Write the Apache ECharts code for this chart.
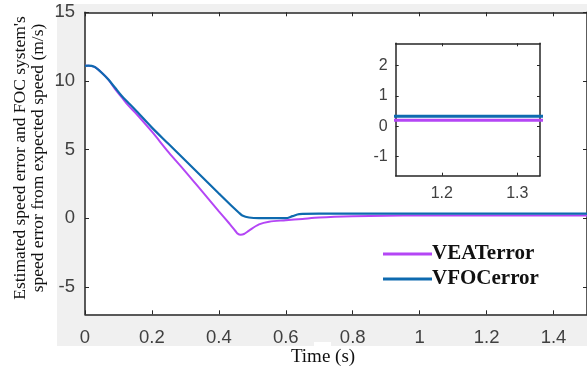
<!DOCTYPE html>
<html><head><meta charset="utf-8">
<script src="https://cdn.jsdelivr.net/npm/echarts@6/dist/echarts.min.js"></script>
<style>html,body{margin:0;padding:0;background:#fff}#c{width:587px;height:375px}</style>
</head><body><div id="c"></div>
<script>
const timeVEAT = [0,0.01,0.02,0.03,0.05,0.07,0.09,0.11,0.13,0.15,0.2,0.25,0.3,0.35,0.4,0.43,0.44,0.45,0.455,0.465,0.475,0.49,0.52,0.55,0.6,0.65,0.7,0.8,0.9,1.0,1.5];
const valVEAT  = [11.1,11.1,11.08,11.0,10.6,10.1,9.4,8.8,8.2,7.7,6.3,4.8,3.4,1.95,0.5,-0.35,-0.65,-0.95,-1.1,-1.2,-1.15,-0.9,-0.45,-0.25,-0.15,-0.05,0.05,0.14,0.18,0.2,0.2];
const timeVFOC = [0,0.01,0.02,0.03,0.05,0.07,0.09,0.11,0.13,0.15,0.2,0.25,0.3,0.35,0.4,0.44,0.46,0.47,0.49,0.52,0.6,0.62,0.64,0.7,1.0,1.5];
const valVFOC  = [11.1,11.12,11.1,11.0,10.6,10.1,9.5,8.9,8.4,7.9,6.6,5.4,4.2,3.0,1.8,0.85,0.4,0.2,0.05,0.0,0.0,0.15,0.3,0.33,0.33,0.33];
const seriesNames = ['VEATerror','VFOCerror'];
const mainYTicks = [-5,0,5,10,15];
const insetXTicks = [1.2,1.3];
const insetYTicks = [-1,0,1,2];

const colVEAT = '#b446f5', colVFOC = '#0e6aaf';
const axisCol = '#262626', labCol = '#404040';
const pairs = (t,v)=>t.map((x,i)=>[x,v[i]]);
const dVEAT = pairs(timeVEAT,valVEAT), dVFOC = pairs(timeVFOC,valVFOC);

const chart = echarts.init(document.getElementById('c'), null, {renderer:'canvas'});
const tickIn = {show:true, inside:true, length:4, lineStyle:{color:axisCol,width:1}};
const lineAx = {show:true, onZero:false, lineStyle:{color:axisCol,width:1.5}};
const lab = {color:labCol, fontFamily:'Liberation Sans, Arial, sans-serif', fontSize:18.5};
const labIn = {color:labCol, fontFamily:'Liberation Sans, Arial, sans-serif', fontSize:16};
const serif = 'Liberation Serif, Times New Roman, serif';
chart.setOption({
  animation:false,
  backgroundColor:'#fff',
  graphic:[
    {type:'rect', z:-10, silent:true, shape:{x:57,y:4,width:540,height:342}, style:{fill:'#f0f0f0'}},
    {type:'rect', z:-9, silent:true, shape:{x:85,y:12.3,width:503,height:302}, style:{fill:'#fff'}},
    {type:'rect', z:-9, silent:true, shape:{x:314,y:342,width:17,height:6}, style:{fill:'#fff'}},
    {type:'text', silent:true, x:20, y:158, rotation:Math.PI/2, style:{text:"Estimated speed error and FOC system's", fontFamily:serif, fontSize:17.5, fill:'#111', textAlign:'center', textVerticalAlign:'middle'}},
    {type:'text', silent:true, x:38, y:158, rotation:Math.PI/2, style:{text:'speed error from expected speed (m/s)', fontFamily:serif, fontSize:17.5, fill:'#111', textAlign:'center', textVerticalAlign:'middle'}},
    {type:'text', silent:true, x:323, y:357, style:{text:'Time (s)', fontFamily:serif, fontSize:19, fill:'#111', textAlign:'center', textVerticalAlign:'middle'}}
  ],
  legend:{
    data:seriesNames, orient:'vertical', left:383, top:243, itemGap:3, padding:0,
    icon:'rect', itemWidth:49, itemHeight:3,
    textStyle:{fontFamily:serif, fontWeight:'bold', fontSize:21, color:'#111', padding:[0,0,0,-5], lineHeight:22},
    selectedMode:false
  },
  grid:[
    {left:85, top:12.3, width:503, height:302, containLabel:false},
    {left:395.7, top:43.3, width:144.3, height:132.4, containLabel:false, show:true, backgroundColor:'#fff', borderWidth:0, z:5}
  ],
  xAxis:[
    {type:'value', gridIndex:0, min:0, max:1.5, interval:0.2, position:'bottom',
     axisLine:lineAx, axisTick:tickIn, splitLine:{show:false},
     axisLabel:Object.assign({margin:14, showMaxLabel:false}, lab)},
    {type:'value', gridIndex:0, min:0, max:1.5, interval:0.2, position:'top',
     axisLine:lineAx, axisTick:tickIn, splitLine:{show:false}, axisLabel:{show:false}},
    {type:'value', gridIndex:1, min:1.139, max:1.33, position:'bottom',
     axisLine:lineAx, axisTick:Object.assign({customValues:insetXTicks}, tickIn, {length:3}), splitLine:{show:false},
     axisLabel:Object.assign({customValues:insetXTicks, margin:10}, labIn), z:6},
    {type:'value', gridIndex:1, min:1.139, max:1.33, position:'top',
     axisLine:lineAx, axisTick:Object.assign({customValues:insetXTicks}, tickIn, {length:3}), splitLine:{show:false}, axisLabel:{show:false}, z:6}
  ],
  yAxis:[
    {type:'value', gridIndex:0, min:-7, max:15, position:'left',
     axisLine:lineAx, axisTick:Object.assign({customValues:mainYTicks}, tickIn), splitLine:{show:false},
     axisLabel:Object.assign({customValues:mainYTicks, margin:10}, lab)},
    {type:'value', gridIndex:0, min:-7, max:15, position:'right',
     axisLine:lineAx, axisTick:Object.assign({customValues:mainYTicks}, tickIn), splitLine:{show:false}, axisLabel:{show:false}},
    {type:'value', gridIndex:1, min:-1.63, max:2.74, position:'left',
     axisLine:lineAx, axisTick:Object.assign({customValues:insetYTicks}, tickIn, {length:3}), splitLine:{show:false},
     axisLabel:Object.assign({customValues:insetYTicks, margin:8}, labIn), z:6},
    {type:'value', gridIndex:1, min:-1.63, max:2.74, position:'right',
     axisLine:lineAx, axisTick:Object.assign({customValues:insetYTicks}, tickIn, {length:3}), splitLine:{show:false}, axisLabel:{show:false}, z:6}
  ],
  series:[
    {name:seriesNames[0], type:'line', xAxisIndex:0, yAxisIndex:0, data:dVEAT, showSymbol:false, smooth:0.3, lineStyle:{color:colVEAT,width:2}, itemStyle:{color:colVEAT}, z:2},
    {name:seriesNames[1], type:'line', xAxisIndex:0, yAxisIndex:0, data:dVFOC, showSymbol:false, smooth:0.3, lineStyle:{color:colVFOC,width:2.2}, itemStyle:{color:colVFOC}, z:3},
    {name:seriesNames[0], type:'line', xAxisIndex:2, yAxisIndex:2, data:dVEAT, showSymbol:false, clip:true, lineStyle:{color:colVEAT,width:3}, itemStyle:{color:colVEAT}, z:7},
    {name:seriesNames[1], type:'line', xAxisIndex:2, yAxisIndex:2, data:dVFOC, showSymbol:false, clip:true, lineStyle:{color:colVFOC,width:3}, itemStyle:{color:colVFOC}, z:7}
  ]
});
</script></body></html>
